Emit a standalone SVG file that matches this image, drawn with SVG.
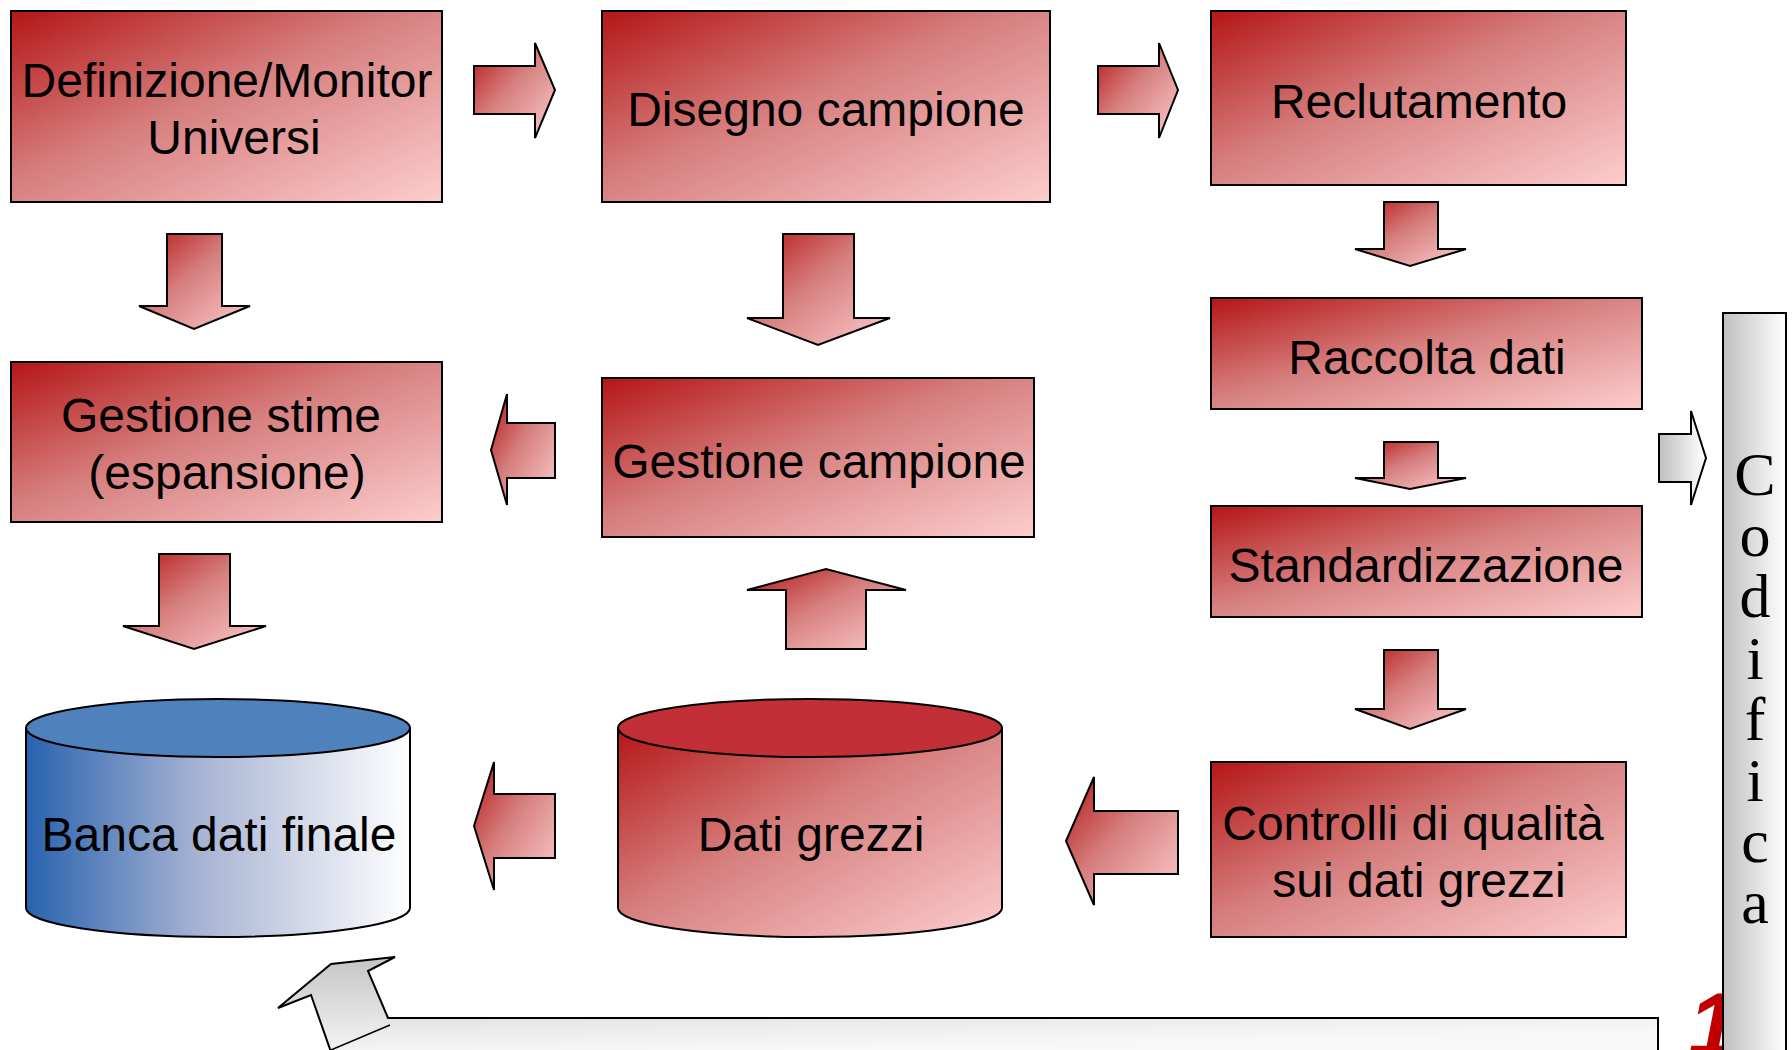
<svg xmlns="http://www.w3.org/2000/svg" width="1792" height="1050" viewBox="0 0 1792 1050">
  <defs>
    <linearGradient id="redFill" x1="0" y1="0" x2="1" y2="1">
      <stop offset="0" stop-color="#b51616"/>
      <stop offset="0.45" stop-color="#d67e7e"/>
      <stop offset="1" stop-color="#fdcdcd"/>
    </linearGradient>
    <linearGradient id="blueBody" x1="0" y1="0" x2="1" y2="0">
      <stop offset="0" stop-color="#2862ae"/>
      <stop offset="0.45" stop-color="#a7b3d3"/>
      <stop offset="1" stop-color="#ffffff"/>
    </linearGradient>
    <linearGradient id="grayH" x1="0" y1="0" x2="1" y2="0">
      <stop offset="0" stop-color="#bfbfbf"/>
      <stop offset="1" stop-color="#ffffff"/>
    </linearGradient>
    <linearGradient id="grayBar" x1="0" y1="0" x2="0.3" y2="1">
      <stop offset="0" stop-color="#c4c4c4"/>
      <stop offset="1" stop-color="#f8f8f8"/>
    </linearGradient>
    <style>
      .box { fill: url(#redFill); stroke: #000; stroke-width: 2; }
      .arrow { fill: url(#redFill); stroke: #000; stroke-width: 2; stroke-linejoin: miter; }
      .garrow { fill: url(#grayH); stroke: #000; stroke-width: 2; }
      .lbl { font-family: "Liberation Sans", Arial, Helvetica, sans-serif; font-size: 48px; fill: #000; text-anchor: middle; }
      .vert { font-family: "Liberation Serif", "Times New Roman", serif; font-size: 62px; fill: #000; text-anchor: middle; }
    </style>
  </defs>

  <rect width="1792" height="1050" fill="#ffffff"/>

  <!-- page number, partly covered by the side column -->
  <text x="1688" y="1056" font-family="Liberation Sans, Arial, sans-serif" font-size="90" font-weight="bold" font-style="italic" fill="#c00000">11</text>

  <!-- process boxes -->
  <g id="definizione">
    <rect class="box" x="11" y="11" width="431" height="191"/>
    <text class="lbl" x="227" y="97">Definizione/Monitor</text>
    <text class="lbl" x="234" y="154">Universi</text>
  </g>
  <g id="disegno">
    <rect class="box" x="602" y="11" width="448" height="191"/>
    <text class="lbl" x="826" y="126">Disegno campione</text>
  </g>
  <g id="reclutamento">
    <rect class="box" x="1211" y="11" width="415" height="174"/>
    <text class="lbl" x="1419" y="118">Reclutamento</text>
  </g>
  <g id="raccolta">
    <rect class="box" x="1211" y="298" width="431" height="111"/>
    <text class="lbl" x="1427" y="374">Raccolta dati</text>
  </g>
  <g id="standardizzazione">
    <rect class="box" x="1211" y="506" width="431" height="111"/>
    <text class="lbl" x="1426" y="582">Standardizzazione</text>
  </g>
  <g id="controlli">
    <rect class="box" x="1211" y="762" width="415" height="175"/>
    <text class="lbl" x="1413" y="840">Controlli di qualità</text>
    <text class="lbl" x="1419" y="897">sui dati grezzi</text>
  </g>
  <g id="gestione-stime">
    <rect class="box" x="11" y="362" width="431" height="160"/>
    <text class="lbl" x="221" y="432">Gestione stime</text>
    <text class="lbl" x="227" y="489">(espansione)</text>
  </g>
  <g id="gestione-campione">
    <rect class="box" x="602" y="378" width="432" height="159"/>
    <text class="lbl" x="819" y="478">Gestione campione</text>
  </g>

  <!-- databases -->
  <g id="banca-dati">
    <path d="M26,728 L26,908 A192,29 0 0,0 410,908 L410,728 Z" fill="url(#blueBody)" stroke="#000" stroke-width="2"/>
    <ellipse cx="218" cy="728" rx="192" ry="29" fill="#4f81bd" stroke="#000" stroke-width="2"/>
    <text class="lbl" x="219" y="851">Banca dati finale</text>
  </g>
  <g id="dati-grezzi">
    <path d="M618,728 L618,908 A192,29 0 0,0 1002,908 L1002,728 Z" fill="url(#redFill)" stroke="#000" stroke-width="2"/>
    <ellipse cx="810" cy="728" rx="192" ry="29" fill="#c22f36" stroke="#000" stroke-width="2"/>
    <text class="lbl" x="811" y="851">Dati grezzi</text>
  </g>

  <!-- side column with the label stacked one letter per line -->
  <g id="codifica">
    <rect x="1723" y="313" width="63" height="745" fill="url(#grayH)" stroke="#000" stroke-width="2"/>
    <text class="vert"><tspan x="1755" y="495">C</tspan><tspan x="1755" y="556">o</tspan><tspan x="1755" y="617">d</tspan><tspan x="1755" y="679">i</tspan><tspan x="1755" y="740">f</tspan><tspan x="1755" y="801">i</tspan><tspan x="1755" y="862">c</tspan><tspan x="1755" y="923">a</tspan></text>
  </g>

  <!-- connectors -->
  <g id="connectors">
    <polygon class="arrow" points="474,66 535,66 535,43 555,90 535,138 535,114 474,114"/>
    <polygon class="arrow" points="1098,66 1159,66 1159,43 1178,90 1159,138 1159,114 1098,114"/>
    <polygon class="arrow" points="167,234 222,234 222,306 250,306 194,329 139,306 167,306"/>
    <polygon class="arrow" points="783,234 854,234 854,318 890,318 818,345 747,318 783,318"/>
    <polygon class="arrow" points="1384,202 1438,202 1438,249 1466,249 1410,266 1355,249 1384,249"/>
    <polygon class="arrow" points="1384,442 1438,442 1438,478 1466,478 1410,489 1355,478 1384,478"/>
    <polygon class="arrow" points="1384,650 1438,650 1438,709 1466,709 1410,729 1355,709 1384,709"/>
    <polygon class="arrow" points="159,554 230,554 230,626 266,626 194,649 123,626 159,626"/>
    <polygon class="arrow" points="786,649 866,649 866,590 906,590 826,569 747,590 786,590"/>
    <polygon class="arrow" points="555,423 507,423 507,394 491,450 507,505 507,478 555,478"/>
    <polygon class="arrow" points="555,794 494,794 494,762 474,826 494,890 494,858 555,858"/>
    <polygon class="arrow" points="1178,811 1094,811 1094,777 1066,841 1094,905 1094,874 1178,874"/>
    <polygon class="garrow" points="1659,434 1691,434 1691,411 1706,458 1691,505 1691,482 1659,482"/>
    <!-- bent return arrow along the bottom -->
    <polygon points="1658,1018 388,1018 368,971 395,957 331,964 278,1008 311,995 331,1052 1658,1052" fill="url(#grayBar)" stroke="#000" stroke-width="2" stroke-linejoin="miter"/>
    <line x1="390" y1="1025" x2="331" y2="1050" stroke="#000" stroke-width="1.5"/>
  </g>
</svg>
